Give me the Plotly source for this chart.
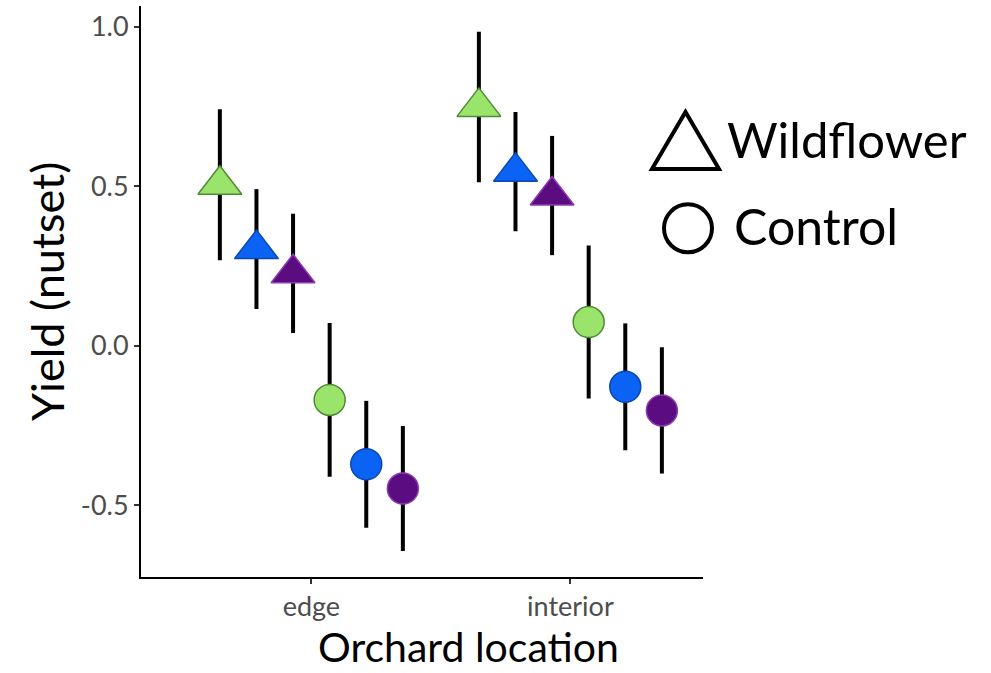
import plotly.graph_objects as go

# ---- data ----
locations = ["edge", "interior"]
wildflower_mean_edge = [0.505, 0.303, 0.227]
wildflower_mean_interior = [0.749, 0.546, 0.471]
wildflower_ci_edge = [0.237, 0.188, 0.187]
wildflower_ci_interior = [0.236, 0.187, 0.187]
control_mean_edge = [-0.170, -0.372, -0.448]
control_mean_interior = [0.074, -0.129, -0.203]
control_ci_edge = [0.241, 0.199, 0.196]
control_ci_interior = [0.240, 0.199, 0.198]
y_ticks = [-0.5, 0.0, 0.5, 1.0]
y_tick_labels = ["-0.5", "0.0", "0.5", "1.0"]

# ---- styles ----
fills = ["#9ae46c", "#0b63f6", "#5a0c80"]
outlines = ["#4f8a34", "#0a47b0", "#8e3bb0"]
FONT = "Lato"
W, H = 991, 673
L, R, T, B = 141, 703, 6, 577   # plot area in pixels
dodge = 0.1413


def px(x):
    return (x - L) / (R - L)


def py(y):
    return (B - y) / (B - T)


loc_pos = {loc: i + 1 for i, loc in enumerate(locations)}

fig = go.Figure()

treatments = [
    ("Wildflower", "triangle-up", 38, 0,
     [wildflower_mean_edge, wildflower_mean_interior],
     [wildflower_ci_edge, wildflower_ci_interior]),
    ("Control", "circle", 31, 3,
     [control_mean_edge, control_mean_interior],
     [control_ci_edge, control_ci_interior]),
]

for name, symbol, size, base, means, cis in treatments:
    xs, ys, es, cs, ls = [], [], [], [], []
    for li, loc in enumerate(locations):
        for gi in range(3):
            idx = base + gi
            xs.append(loc_pos[loc] + (idx - 2.5) * dodge)
            ys.append(means[li][gi])
            es.append(cis[li][gi])
            cs.append(fills[gi])
            ls.append(outlines[gi])
    fig.add_trace(go.Scatter(
        x=xs, y=ys, mode="markers", name=name, showlegend=False,
        marker=dict(symbol=symbol, size=size, color=cs,
                    line=dict(color=ls, width=1.5)),
        error_y=dict(type="data", array=es, visible=True,
                     color="black", thickness=4, width=0),
    ))

fig.update_layout(
    width=W, height=H,
    margin=dict(l=L, r=W - R, t=T, b=H - B),
    paper_bgcolor="white", plot_bgcolor="white",
    font=dict(family=FONT, color="black"),
    showlegend=False,
    xaxis=dict(
        range=[0.3423, 2.512], tickvals=[1, 2], ticktext=locations,
        showgrid=False, zeroline=False, showline=True, linecolor="black",
        linewidth=2, ticks="outside", ticklen=5, tickwidth=2, tickcolor="#333",
        tickfont=dict(family=FONT, size=27, color="#4d4d4d"),
    ),
    yaxis=dict(
        range=[-0.7255, 1.0655], tickvals=y_ticks, ticktext=y_tick_labels,
        showgrid=False, zeroline=False, showline=True, linecolor="black",
        linewidth=2, ticks="outside", ticklen=5, tickwidth=2, tickcolor="#333",
        tickfont=dict(family=FONT, size=27, color="#4d4d4d"),
    ),
)

annotations = [
    dict(text="Yield (nutset)", x=px(47), y=py(292), xref="paper", yref="paper",
         showarrow=False, textangle=-90, font=dict(family=FONT, size=45, color="black"),
         xanchor="center", yanchor="middle"),
    dict(text="Orchard location", x=px(468), y=py(673), xref="paper", yref="paper",
         showarrow=False, font=dict(family=FONT, size=41, color="black"),
         xanchor="center", yanchor="bottom"),
    dict(text="Wildflower", x=px(725), y=py(139), xref="paper", yref="paper",
         showarrow=False, font=dict(family=FONT, size=49, color="black"),
         xanchor="left", yanchor="middle"),
    dict(text="Control", x=px(732), y=py(226), xref="paper", yref="paper",
         showarrow=False, font=dict(family=FONT, size=50, color="black"),
         xanchor="left", yanchor="middle"),
]
fig.update_layout(annotations=annotations)

tri = [(652, 169), (719, 169), (685.5, 112)]
path = "M {} {} L {} {} L {} {} Z".format(*[v for p in tri for v in (px(p[0]), py(p[1]))])
fig.add_shape(type="path", path=path, xref="paper", yref="paper",
              line=dict(color="black", width=4), fillcolor="rgba(0,0,0,0)")
fig.add_shape(type="circle", xref="paper", yref="paper",
              x0=px(664), x1=px(712), y0=py(252.3), y1=py(204.3),
              line=dict(color="black", width=4), fillcolor="rgba(0,0,0,0)")

fig.write_html("out.html", config={"displayModeBar": False},
               post_script="document.body.style.margin='0';")
